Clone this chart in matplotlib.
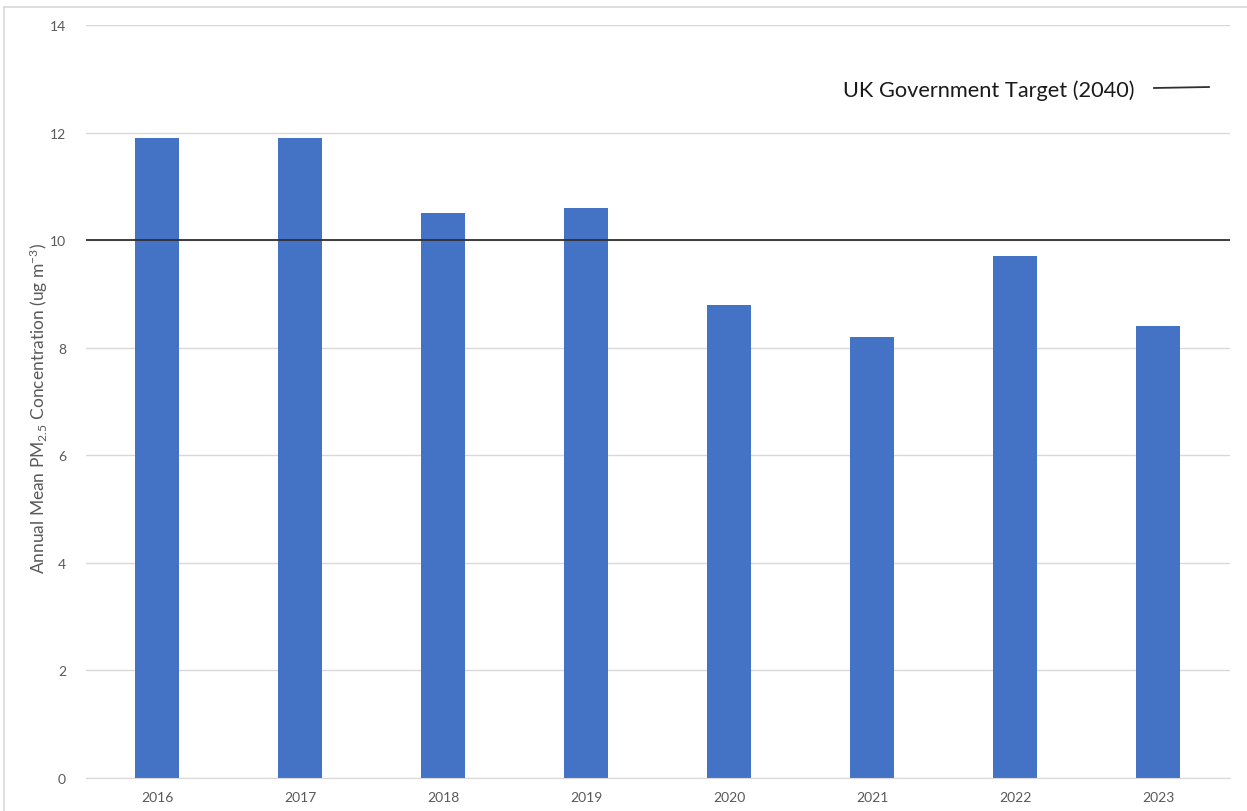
import matplotlib
matplotlib.use("Agg")
import matplotlib.pyplot as plt
from matplotlib.lines import Line2D

plt.rcParams['font.family'] = ['Lato', 'DejaVu Sans']
plt.rcParams['mathtext.default'] = 'regular'

# Annual mean PM2.5 values per year
years = ['2016', '2017', '2018', '2019', '2020', '2021', '2022', '2023']
pm25 = [11.9, 11.9, 10.5, 10.6, 8.8, 8.2, 9.7, 8.4]
target = 10
target_label = 'UK Government Target (2040)'
y_ticks = [0, 2, 4, 6, 8, 10, 12, 14]

grey_txt = '#595959'

fig = plt.figure(figsize=(12.47, 8.12), dpi=100)
ax = fig.add_axes([0.0686, 0.0406, 0.9174, 0.9273])

x = range(len(years))
ax.bar(x, pm25, width=0.31, color='#4472C4', zorder=2)
ax.axhline(target, color='#303030', lw=1.3, zorder=3)

ax.set_xlim(-0.5, len(years) - 0.5)
ax.set_ylim(0, 14)
ax.set_yticks(y_ticks)
ax.set_xticks(list(x))
ax.set_xticklabels(years)
ax.yaxis.grid(True, color='#d9d9d9', lw=1, zorder=0)
ax.tick_params(axis='both', length=0, labelsize=10, colors=grey_txt)
ax.tick_params(axis='y', pad=14)
ax.tick_params(axis='x', pad=9)
for s in ['top', 'right', 'left']:
    ax.spines[s].set_visible(False)
ax.spines['bottom'].set_color('#d9d9d9')

ax.set_ylabel('Annual Mean PM$_{2.5}$ Concentration (ug m$^{-3}$)',
              fontsize=12.5, color=grey_txt)
ax.yaxis.set_label_coords(-0.031, 0.492)

# legend text and line placed by hand
fig.text(843 / 1247, 1 - 91 / 812, target_label, fontsize=15.7,
         color='#1a1a1a', va='center', ha='left')
fig.add_artist(Line2D([1154 / 1247, 1209 / 1247],
                      [1 - 89 / 812, 1 - 88 / 812],
                      color='#303030', lw=1.3))

# outer frame
fig.add_artist(Line2D([4 / 1247, 4 / 1247], [0, 1 - 8 / 812],
                      color='#d9d9d9', lw=1.2))
fig.add_artist(Line2D([4 / 1247, 1], [1 - 8 / 812, 1 - 8 / 812],
                      color='#d9d9d9', lw=1.2))

fig.savefig('out.png', dpi=100)
